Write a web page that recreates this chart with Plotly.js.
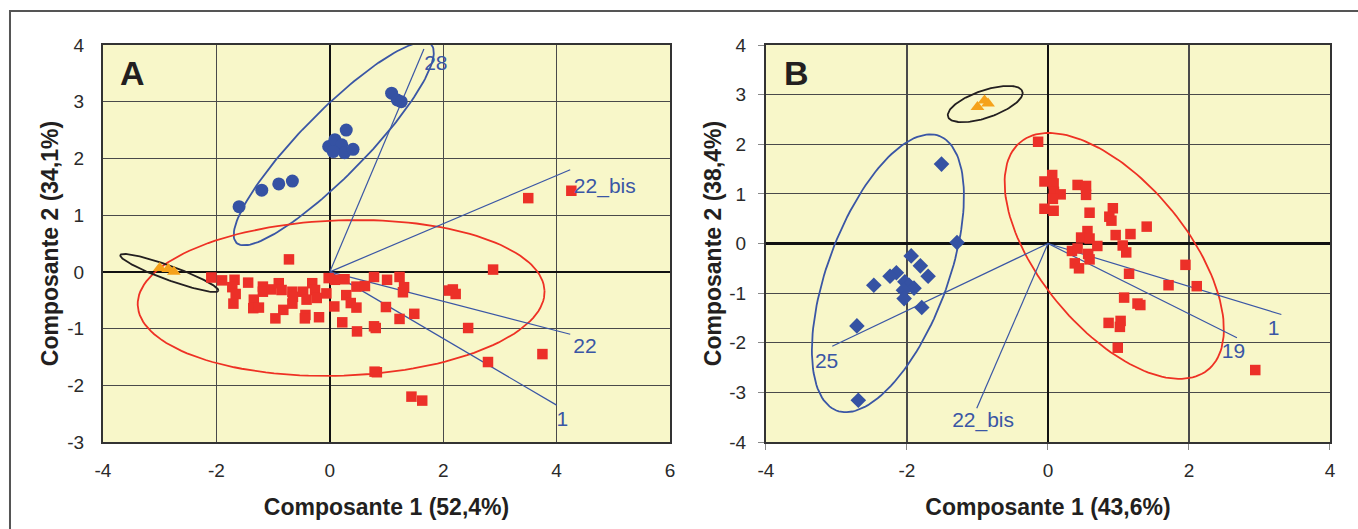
<!DOCTYPE html>
<html>
<head>
<meta charset="utf-8">
<script src="https://cdn.plot.ly/plotly-3.0.1.min.js"></script>
<style>html,body{margin:0;padding:0;background:#fff;}#chart{width:1358px;height:529px;}</style>
</head>
<body>
<div id="chart"></div>
<script>
// ---------- Panel A data ----------
const aCircX = [-1.6,-1.2,-0.9,-0.66,-0.02,0.06,0.09,0.21,0.26,0.41,0.06,0.29,1.09,1.19,1.26];
const aCircY = [1.15,1.44,1.55,1.6,2.21,2.21,2.33,2.24,2.1,2.16,2.12,2.5,3.15,3.03,3.0];
const aTriX = [-3.0,-2.85,-2.75];
const aTriY = [0.07,0.05,0.0];
const aSqX = [-0.72,-2.09,-1.9,-1.68,-1.72,-1.66,-1.7,-1.44,-1.18,-1.18,-1.03,-0.9,-0.85,-1.34,-1.35,-1.25,-0.82,-0.96,-0.66,-0.65,-0.66,-0.47,-0.41,-0.31,-0.26,-0.23,-0.43,-0.44,-0.19,-0.06,-0.02,0.09,0.26,0.29,0.37,0.47,0.47,0.62,0.08,0.22,0.48,0.78,1.01,1.23,1.31,1.29,0.99,1.23,1.49,0.78,0.81,0.83,0.79,1.44,1.63,3.5,4.26,2.88,2.1,2.17,2.22,2.44,2.79,3.75];
const aSqY = [0.22,-0.1,-0.15,-0.14,-0.27,-0.39,-0.56,-0.19,-0.26,-0.35,-0.31,-0.2,-0.32,-0.49,-0.64,-0.63,-0.67,-0.82,-0.35,-0.44,-0.56,-0.35,-0.49,-0.2,-0.32,-0.46,-0.76,-0.82,-0.8,-0.38,-0.11,-0.14,-0.13,-0.41,-0.55,-0.63,-0.26,-0.25,-0.61,-0.89,-1.05,-0.09,-0.14,-0.09,-0.27,-0.36,-0.62,-0.83,-0.74,-0.96,-0.99,-1.77,-1.76,-2.2,-2.27,1.3,1.43,0.04,-0.33,-0.31,-0.39,-0.99,-1.59,-1.45];
const aVecNames = ["28","22_bis","22","1"];
const aVecX = [1.66,4.24,4.24,4.0];
const aVecY = [3.93,1.8,-1.1,-2.35];
const aLabX = [1.87,4.85,4.5,4.1];
const aLabY = [3.65,1.48,-1.34,-2.63];
const aXTicks = [-4,-2,0,2,4,6];
const aXTickText = ["-4","-2","0","2","4","6"];
const aYTicks = [-3,-2,-1,0,1,2,3,4];
const aYTickText = ["-3","-2","-1","0","1","2","3","4"];

// ---------- Panel B data ----------
const bDiaX = [-1.29,-1.94,-1.81,-1.7,-2.15,-2.24,-2.47,-2.03,-1.97,-1.9,-2.05,-2.04,-1.79,-2.71,-2.69,-1.51];
const bDiaY = [0.02,-0.25,-0.45,-0.66,-0.59,-0.66,-0.84,-0.77,-0.84,-0.9,-0.94,-1.11,-1.29,-1.66,-3.16,1.6];
const bTriX = [-1.0,-0.9,-0.85];
const bTriY = [2.75,2.88,2.82];
const bSqX = [-0.14,0.06,-0.05,0.08,0.085,0.18,0.07,0.42,0.54,0.54,-0.05,0.08,0.59,0.92,0.87,0.9,1.4,0.96,1.17,0.56,0.47,0.59,0.7,1.06,1.11,0.34,0.42,0.57,0.59,0.38,0.44,1.15,1.95,1.71,2.11,1.08,1.27,1.31,0.86,1.03,1.02,0.99,2.94];
const bSqY = [2.05,1.38,1.25,1.21,1.04,0.99,0.9,1.18,1.16,0.98,0.7,0.66,0.62,0.71,0.54,0.46,0.34,0.17,0.19,0.25,0.12,0.1,-0.05,-0.04,-0.18,-0.15,-0.1,-0.21,-0.32,-0.4,-0.5,-0.61,-0.43,-0.84,-0.86,-1.09,-1.21,-1.24,-1.6,-1.56,-1.68,-2.1,-2.55];
const bVecNames = ["1","19","25","22_bis"];
const bVecX = [3.31,2.68,-3.06,-1.01];
const bVecY = [-1.43,-1.9,-2.07,-3.32];
const bLabX = [3.2,2.63,-3.14,-0.92];
const bLabY = [-1.74,-2.21,-2.4,-3.6];
const bXTicks = [-4,-2,0,2,4];
const bXTickText = ["-4","-2","0","2","4"];
const bYTicks = [-4,-3,-2,-1,0,1,2,3,4];
const bYTickText = ["-4","-3","-2","-1","0","1","2","3","4"];

// Ellipses: [cx, cy, semi-major, semi-minor, angle(deg), color]
const ellA = [[0.07,2.26,2.45,0.57,45.5,"#3a56a5"],[0.2,-0.46,3.59,1.37,2,"#ee3124"],[-2.83,-0.02,0.92,0.125,-20,"#231f20"]];
const ellB = [[-2.27,-0.6,2.87,0.876,76.7,"#3a56a5"],[0.94,-0.25,2.69,1.15,-64.5,"#ee3124"],[-0.89,2.81,0.59,0.26,29,"#231f20"]];

const RED="#ec3028", BLUE="#3552a3", ORANGE="#f5a21b", LBLUE="#3a56a5";
const FONT = "Liberation Sans, Arial, sans-serif";

function ellipse(p, xa, ya){
  const [cx,cy,a,b,deg,col]=p; const th=deg*Math.PI/180; const xs=[],ys=[];
  for(let i=0;i<=144;i++){const t=2*Math.PI*i/144;
    xs.push(cx+a*Math.cos(th)*Math.cos(t)-b*Math.sin(th)*Math.sin(t));
    ys.push(cy+a*Math.sin(th)*Math.cos(t)+b*Math.cos(th)*Math.sin(t));}
  return {x:xs,y:ys,xaxis:xa,yaxis:ya,mode:"lines",line:{color:col,width:1.8},hoverinfo:"skip",showlegend:false};
}
function vectors(ex,ey,xa,ya){
  const xs=[],ys=[];
  for(let i=0;i<ex.length;i++){xs.push(0,ex[i],null);ys.push(0,ey[i],null);}
  return {x:xs,y:ys,xaxis:xa,yaxis:ya,mode:"lines",line:{color:LBLUE,width:1.2},hoverinfo:"skip",showlegend:false};
}
function labels(lx,ly,names,xa,ya){
  return {x:lx,y:ly,text:names,xaxis:xa,yaxis:ya,mode:"text",textfont:{family:FONT,size:21,color:LBLUE},hoverinfo:"skip",showlegend:false,cliponaxis:false};
}

const traces = [];
ellA.forEach(e=>traces.push(ellipse(e,"x","y")));
traces.push(vectors(aVecX,aVecY,"x","y"));
traces.push({x:aSqX,y:aSqY,xaxis:"x",yaxis:"y",mode:"markers",marker:{symbol:"square",size:10.5,color:RED},showlegend:false});
traces.push({x:aCircX,y:aCircY,xaxis:"x",yaxis:"y",mode:"markers",marker:{symbol:"circle",size:13,color:BLUE},showlegend:false});
traces.push({x:aTriX,y:aTriY,xaxis:"x",yaxis:"y",mode:"markers",marker:{symbol:"triangle-up",size:12,color:ORANGE},showlegend:false});
traces.push(labels(aLabX,aLabY,aVecNames,"x","y"));

ellB.forEach(e=>traces.push(ellipse(e,"x2","y2")));
traces.push(vectors(bVecX,bVecY,"x2","y2"));
traces.push({x:bSqX,y:bSqY,xaxis:"x2",yaxis:"y2",mode:"markers",marker:{symbol:"square",size:10.5,color:RED},showlegend:false});
traces.push({x:bDiaX,y:bDiaY,xaxis:"x2",yaxis:"y2",mode:"markers",marker:{symbol:"diamond",size:12,color:BLUE},showlegend:false});
traces.push({x:bTriX,y:bTriY,xaxis:"x2",yaxis:"y2",mode:"markers",marker:{symbol:"triangle-up",size:12,color:ORANGE},showlegend:false});
traces.push(labels(bLabX,bLabY,bVecNames,"x2","y2"));

const tickFont = {family:FONT,size:19,color:"#2a2a2a"};
const titleFont = {family:FONT,size:23,color:"#231f20",weight:"bold"};
const common = {showgrid:true,gridcolor:"#4a4a4a",gridwidth:1.2,zeroline:true,zerolinecolor:"#111",zerolinewidth:2.2,
  showline:true,mirror:true,linecolor:"#333",linewidth:2,tickfont:tickFont,automargin:false,fixedrange:true,tickmode:"array"};

const layout = {
  width:1358,height:529,margin:{l:103,r:28,t:45,b:87},
  paper_bgcolor:"#ffffff",plot_bgcolor:"#f8f7c9",showlegend:false,
  xaxis:Object.assign({},common,{domain:[0,0.4621],range:[-4,6],tickvals:aXTicks,ticktext:aXTickText,ticks:"",ticklabelstandoff:10,
     title:{text:"Composante 1 (52,4%)",font:titleFont,standoff:19}}),
  yaxis:Object.assign({},common,{domain:[0,1],range:[-3,4],tickvals:aYTicks,ticktext:aYTickText,ticks:"",ticklabelstandoff:13,
     title:{text:"Composante 2 (34,1%)",font:titleFont,standoff:2}}),
  xaxis2:Object.assign({},common,{domain:[0.5403,1],range:[-4,4],tickvals:bXTicks,ticktext:bXTickText,anchor:"y2",ticks:"outside",ticklen:6,tickcolor:"#888",ticklabelstandoff:4,
     title:{text:"Composante 1 (43,6%)",font:titleFont,standoff:19}}),
  yaxis2:Object.assign({},common,{domain:[0,1],range:[-4,4],tickvals:bYTicks,ticktext:bYTickText,anchor:"x2",ticks:"outside",ticklen:6,tickcolor:"#888",ticklabelstandoff:8,
     title:{text:"Composante 2 (38,4%)",font:titleFont,standoff:1}}),
  annotations:[
    {xref:"x",yref:"y",x:-3.48,y:3.5,text:"A",showarrow:false,font:{family:FONT,size:34,color:"#231f20",weight:"bold"}},
    {xref:"x2",yref:"y2",x:-3.57,y:3.43,text:"B",showarrow:false,font:{family:FONT,size:34,color:"#231f20",weight:"bold"}}
  ],
  shapes:[
    {type:"rect",xref:"paper",yref:"paper",x0:-0.0758,x1:1.05,y0:-0.3,y1:1.0856,line:{color:"#555",width:2},fillcolor:"rgba(0,0,0,0)",layer:"below"}
  ]
};

Plotly.newPlot("chart",traces,layout,{staticPlot:true,displayModeBar:false});
</script>
</body>
</html>
